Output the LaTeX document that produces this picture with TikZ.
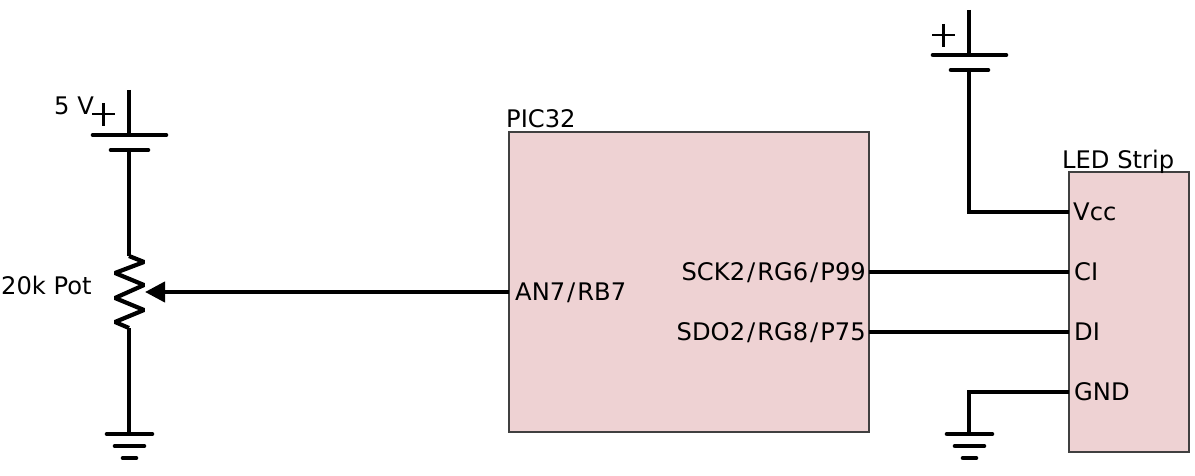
\documentclass[tikz,border=0pt]{standalone}
\usepackage{fontspec}
\setmainfont{DejaVu Sans}
\usepackage{tikz}
\usetikzlibrary{arrows.meta}
\definecolor{chipfill}{HTML}{EED2D3}
\newcommand{\pinslash}{\kern2pt/\kern2pt}

\begin{document}
\begin{tikzpicture}[x=1pt, y=-1pt,
                    wire/.style={line width=4.2pt},
                    plate/.style={line width=4.6pt, line cap=round},
                    main node/.style={rectangle,draw=black!75,line width=2pt,fill=chipfill,inner sep=0pt,anchor=north west},
                    label node/.style={inner sep=0pt,anchor=base west,font=\fontsize{24.2}{27}\selectfont},
                    pin node/.style={label node}]
  \useasboundingbox (0,0) rectangle (1195,476);

  % boxes
  \node[main node,minimum width=360pt,minimum height=300pt] (pic) at (508,131) {};
  \node[main node,minimum width=120pt,minimum height=280pt] (strip) at (1068,171) {};
  \node[label node] (picname) at (506,128) {PIC32};
  \node[label node] (stripname) at (1062,168) {LED Strip};

  % pin labels
  \node[pin node] (an7) at (515,300) {AN7\pinslash RB7};
  \node[pin node,anchor=base east] (sck) at (866,280) {SCK2\pinslash RG6\pinslash P99};
  \node[pin node,anchor=base east] (sdo) at (866,340) {SDO2\pinslash RG8\pinslash P75};
  \node[pin node] (vcc) at (1073,220) {Vcc};
  \node[pin node] (ci) at (1074,280) {CI};
  \node[pin node] (di) at (1074,340) {DI};
  \node[pin node] (gnd) at (1074,400) {GND};

  \node[label node] (volt) at (54,115) {5 V};
  \node[label node] (pot) at (1,294) {20k Pot};

  % points on the circuit
  \coordinate (leftTop) at (129,90);
  \coordinate (leftPos) at (129,135);
  \coordinate (leftNeg) at (129,150);
  \coordinate (potTop) at (129,256);
  \coordinate (potBot) at (129,328);
  \coordinate (wiper) at (145,292);
  \coordinate (leftGnd) at (129,434);
  \coordinate (rightTop) at (969,10);
  \coordinate (rightPos) at (969,55);
  \coordinate (rightNeg) at (969,70);
  \coordinate (rightCorner) at (969,212);
  \coordinate (gndCorner) at (969,392);
  \coordinate (rightGnd) at (969,434);
  \coordinate (picAN) at (509,292);
  \coordinate (picSCK) at (869,272);
  \coordinate (picSDO) at (869,332);
  \coordinate (stripVcc) at (1069,212);
  \coordinate (stripCI) at (1069,272);
  \coordinate (stripDI) at (1069,332);
  \coordinate (stripGND) at (1069,392);

  % wires
  \draw[wire] (leftTop) -- (leftPos);
  \draw[wire] (leftNeg) -- (potTop);
  \draw[wire,line join=bevel] (potTop) -- ++(15,6) -- ++(-29,11) -- ++(29,12) -- ++(-29,13)
        -- ++(29,12) -- ++(-29,12) -- (potBot);
  \draw[wire] (potBot) -- (leftGnd);
  \draw[wire,-{Triangle[length=20pt,width=20pt]}] (picAN) -- (wiper);
  \draw[wire] (rightTop) -- (rightPos);
  \draw[wire] (rightNeg) -- (rightCorner) -- (stripVcc);
  \draw[wire] (picSCK) -- (stripCI);
  \draw[wire] (picSDO) -- (stripDI);
  \draw[wire] (stripGND) -- (gndCorner) -- (rightGnd);

  % batteries
  \foreach \pos/\neg in {leftPos/leftNeg, rightPos/rightNeg} {
    \draw[plate] (\pos)+(-36,0) -- +(37,0);
    \draw[plate] (\neg)+(-18,0) -- +(19,0);
  }
  \draw[line width=2.6pt] (92,114) -- (115,114) (103.5,103) -- (103.5,126);
  \draw[line width=2.6pt] (932,35) -- (955,35) (943.5,24) -- (943.5,47);

  % grounds
  \foreach \g in {leftGnd, rightGnd} {
    \draw[plate] (\g)+(-22,0) -- +(23,0);
    \draw[plate] (\g)+(-14,12) -- +(15,12);
    \draw[plate] (\g)+(-6,24) -- +(7,24);
  }
\end{tikzpicture}
\end{document}
